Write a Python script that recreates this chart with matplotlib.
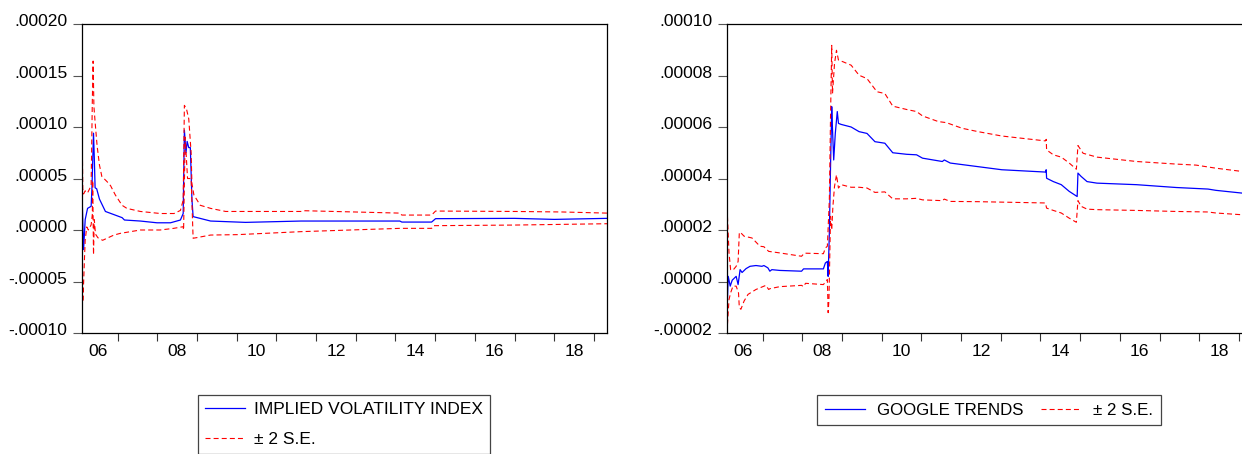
import matplotlib
matplotlib.use("Agg")
import matplotlib.pyplot as plt
from matplotlib.ticker import FixedLocator, FuncFormatter, NullFormatter, FixedFormatter
import matplotlib.transforms as mtransforms

plt.rcParams['font.family'] = ['Liberation Sans', 'DejaVu Sans']

# ---------------- data ----------------
# Left panel: IMPLIED VOLATILITY INDEX recursive coefficient and +/- 2 S.E.
ivi_x = [2006.107, 2006.14, 2006.18, 2006.24, 2006.33, 2006.35, 2006.39, 2006.41, 2006.43,
         2006.47, 2006.54, 2006.69, 2006.90, 2007.11, 2007.17, 2007.57, 2007.99, 2008.33,
         2008.58, 2008.65, 2008.68, 2008.72, 2008.75, 2008.79, 2008.83, 2008.87, 2008.90,
         2009.34, 2010.22, 2011.62, 2014.11, 2014.16, 2014.91, 2015.01, 2017.0, 2018.0, 2019.33]
ivi_y = [2.6e-5, -1.9e-5, 1.0e-5, 2.1e-5, 2.3e-5, 4.0e-5, 9.4e-5, 7.0e-5, 4.1e-5,
         4.0e-5, 3.0e-5, 1.8e-5, 1.5e-5, 1.2e-5, 0.97e-5, 0.87e-5, 0.70e-5, 0.70e-5,
         0.97e-5, 1.6e-5, 9.7e-5, 7.5e-5, 8.6e-5, 8.0e-5, 8.0e-5, 3.0e-5, 1.3e-5,
         0.87e-5, 0.74e-5, 0.87e-5, 0.87e-5, 0.77e-5, 0.77e-5, 1.10e-5, 1.13e-5, 1.03e-5, 1.13e-5]

ivi_up_x = [2006.107, 2006.12, 2006.14, 2006.18, 2006.24, 2006.33, 2006.36, 2006.38, 2006.40,
            2006.43, 2006.48, 2006.54, 2006.60, 2006.73, 2006.82, 2006.94, 2007.11, 2007.23,
            2007.57, 2008.08, 2008.42, 2008.58, 2008.65, 2008.68, 2008.73, 2008.79, 2008.85,
            2008.87, 2008.92, 2009.08, 2009.34, 2009.72, 2011.62, 2011.72, 2014.11, 2014.16,
            2014.91, 2015.01, 2017.0, 2018.2, 2019.33]
ivi_up_y = [8.3e-5, 4.0e-5, 3.5e-5, 3.8e-5, 3.6e-5, 4.3e-5, 12.5e-5, 16.4e-5, 12.0e-5,
            10.5e-5, 8.2e-5, 6.3e-5, 5.2e-5, 4.7e-5, 4.3e-5, 3.4e-5, 2.4e-5, 2.1e-5,
            1.8e-5, 1.6e-5, 1.6e-5, 1.9e-5, 2.9e-5, 12.1e-5, 11.8e-5, 10.8e-5, 7.5e-5,
            4.5e-5, 3.4e-5, 2.4e-5, 2.1e-5, 1.8e-5, 1.8e-5, 1.87e-5, 1.64e-5, 1.45e-5,
            1.45e-5, 1.84e-5, 1.80e-5, 1.75e-5, 1.64e-5]

ivi_lo_x = [2006.107, 2006.12, 2006.14, 2006.16, 2006.18, 2006.22, 2006.26, 2006.33, 2006.36,
            2006.37, 2006.39, 2006.41, 2006.44, 2006.50, 2006.62, 2006.73, 2006.90, 2007.06,
            2007.57, 2008.07, 2008.41, 2008.65, 2008.66, 2008.70, 2008.76, 2008.85, 2008.90,
            2008.98, 2009.34, 2010.02, 2011.62, 2014.11, 2014.91, 2014.96, 2017.0, 2019.33]
ivi_lo_y = [-3.2e-5, -7.0e-5, -5.2e-5, -3.0e-5, -1.0e-5, 0.3e-5, 0.0, 0.5e-5, 1.5e-5,
            4.8e-5, -2.4e-5, 1.0e-5, -0.4e-5, -0.75e-5, -1.0e-5, -0.8e-5, -0.5e-5, -0.33e-5,
            0.0, 0.0, 0.16e-5, 0.32e-5, 0.0, 9.0e-5, 5.0e-5, 5.0e-5, -0.8e-5,
            -0.75e-5, -0.49e-5, -0.45e-5, -0.16e-5, 0.16e-5, 0.16e-5, 0.42e-5, 0.48e-5, 0.61e-5]

# Right panel: GOOGLE TRENDS recursive coefficient and +/- 2 S.E.
gt_x = [2006.111, 2006.131, 2006.181, 2006.231, 2006.331, 2006.380, 2006.430, 2006.480, 2006.580,
        2006.680, 2006.830, 2006.980, 2007.030, 2007.130, 2007.180, 2007.230, 2007.430, 2007.979,
        2008.029, 2008.529, 2008.579, 2008.629, 2008.649, 2008.679, 2008.709, 2008.739, 2008.759,
        2008.789, 2008.829, 2008.879, 2008.909, 2008.978, 2009.228, 2009.428, 2009.628, 2009.828,
        2010.078, 2010.277, 2010.627, 2010.877, 2011.027, 2011.526, 2011.576, 2011.726, 2012.426,
        2013.025, 2014.124, 2014.144, 2014.154, 2014.324, 2014.524, 2014.724, 2014.924, 2014.944,
        2015.024, 2015.173, 2015.423, 2016.422, 2017.421, 2018.221, 2018.421, 2019.100, 2019.33]
gt_y = [-0.70e-5, 0.20e-5, -0.18e-5, 0.05e-5, 0.20e-5, -0.12e-5, 0.46e-5, 0.35e-5, 0.50e-5,
        0.59e-5, 0.62e-5, 0.59e-5, 0.62e-5, 0.53e-5, 0.40e-5, 0.46e-5, 0.43e-5, 0.40e-5,
        0.49e-5, 0.49e-5, 0.72e-5, 0.78e-5, 0.20e-5, 1.88e-5, 4.46e-5, 6.79e-5, 5.9e-5,
        4.72e-5, 5.75e-5, 6.60e-5, 6.14e-5, 6.10e-5, 6.00e-5, 5.82e-5, 5.75e-5, 5.43e-5,
        5.37e-5, 5.00e-5, 4.94e-5, 4.92e-5, 4.79e-5, 4.66e-5, 4.72e-5, 4.60e-5, 4.46e-5,
        4.34e-5, 4.25e-5, 4.34e-5, 4.01e-5, 3.88e-5, 3.76e-5, 3.50e-5, 3.30e-5, 4.21e-5,
        4.08e-5, 3.88e-5, 3.82e-5, 3.76e-5, 3.65e-5, 3.59e-5, 3.54e-5, 3.43e-5, 3.40e-5]

gt_up_x = [2006.111, 2006.151, 2006.191, 2006.251, 2006.331, 2006.380, 2006.410, 2006.430, 2006.530,
           2006.730, 2006.930, 2007.030, 2007.150, 2007.430, 2007.979, 2008.049, 2008.529, 2008.579,
           2008.629, 2008.679, 2008.709, 2008.739, 2008.759, 2008.809, 2008.859, 2008.909, 2009.028,
           2009.228, 2009.428, 2009.628, 2009.878, 2010.078, 2010.277, 2010.627, 2010.877, 2011.027,
           2011.427, 2011.626, 2012.026, 2012.426, 2013.025, 2014.124, 2014.144, 2014.154, 2014.324,
           2014.524, 2014.724, 2014.904, 2014.944, 2015.074, 2015.423, 2016.422, 2017.421, 2017.921,
           2018.421, 2019.100, 2019.33]
gt_up_y = [2.53e-5, 1.11e-5, 0.46e-5, 0.44e-5, 0.59e-5, 0.78e-5, 1.88e-5, 1.92e-5, 1.76e-5,
           1.69e-5, 1.37e-5, 1.35e-5, 1.17e-5, 1.11e-5, 0.98e-5, 1.10e-5, 1.08e-5, 1.30e-5,
           1.37e-5, 3.17e-5, 6.40e-5, 9.17e-5, 7.30e-5, 8.46e-5, 8.98e-5, 8.60e-5, 8.53e-5,
           8.40e-5, 8.01e-5, 7.88e-5, 7.37e-5, 7.30e-5, 6.81e-5, 6.68e-5, 6.60e-5, 6.43e-5,
           6.21e-5, 6.17e-5, 5.95e-5, 5.82e-5, 5.65e-5, 5.46e-5, 5.52e-5, 5.11e-5, 4.92e-5,
           4.83e-5, 4.60e-5, 4.36e-5, 5.28e-5, 4.98e-5, 4.83e-5, 4.66e-5, 4.56e-5, 4.52e-5,
           4.40e-5, 4.27e-5, 4.22e-5]

gt_lo_x = [2006.111, 2006.151, 2006.191, 2006.251, 2006.331, 2006.390, 2006.410, 2006.450, 2006.530,
           2006.630, 2006.830, 2007.080, 2007.150, 2007.180, 2007.430, 2007.979, 2008.029, 2008.079,
           2008.529, 2008.629, 2008.649, 2008.669, 2008.709, 2008.739, 2008.769, 2008.809, 2008.859,
           2008.909, 2008.978, 2009.228, 2009.428, 2009.628, 2009.828, 2010.078, 2010.277, 2010.627,
           2010.877, 2011.027, 2011.526, 2011.576, 2011.726, 2012.426, 2014.124, 2014.154, 2014.324,
           2014.524, 2014.724, 2014.904, 2014.944, 2015.024, 2015.173, 2015.423, 2016.422, 2017.421,
           2018.221, 2018.421, 2019.100, 2019.33]
gt_lo_y = [-1.67e-5, -0.70e-5, -0.44e-5, -0.18e-5, -0.18e-5, -0.44e-5, -1.00e-5, -1.08e-5, -0.76e-5,
           -0.50e-5, -0.31e-5, -0.15e-5, -0.31e-5, -0.28e-5, -0.20e-5, -0.15e-5, -0.20e-5, -0.07e-5,
           -0.12e-5, 0.08e-5, -1.21e-5, -0.70e-5, 2.53e-5, 2.00e-5, 2.92e-5, 3.69e-5, 4.14e-5,
           3.63e-5, 3.76e-5, 3.66e-5, 3.66e-5, 3.63e-5, 3.46e-5, 3.48e-5, 3.21e-5, 3.21e-5,
           3.23e-5, 3.17e-5, 3.14e-5, 3.20e-5, 3.11e-5, 3.10e-5, 3.05e-5, 2.85e-5, 2.76e-5,
           2.66e-5, 2.46e-5, 2.30e-5, 3.14e-5, 2.92e-5, 2.81e-5, 2.79e-5, 2.76e-5, 2.72e-5,
           2.70e-5, 2.66e-5, 2.59e-5, 2.57e-5]

year_ticks = list(range(2007, 2020))
label_years = [2006, 2008, 2010, 2012, 2014, 2016, 2018]
year_labels = ['06', '08', '10', '12', '14', '16', '18']
left_yticks = [-0.00010, -0.00005, 0.0, 0.00005, 0.00010, 0.00015, 0.00020]
right_yticks = [-0.00002, 0.0, 0.00002, 0.00004, 0.00006, 0.00008, 0.00010]
x_range = (2006.10, 2019.33)

# ---------------- layout ----------------
W, H = 1242, 454
fig = plt.figure(figsize=(W / 100, H / 100), dpi=100)


def px_axes(l, t, r, b):
    return [l / W, 1 - b / H, (r - l) / W, (b - t) / H]


ax1 = fig.add_axes(px_axes(82, 24, 607, 333))
ax2 = fig.add_axes(px_axes(727, 24, 1252, 333))

BLUE = '#0000ff'
RED = '#ff0000'
DASH = (4.5, 2.8)
FS = 12.6


def fmt(v, pos=None):
    s = f"{v:.5f}"
    return s.replace("0.", ".", 1)


def style(ax, yticks):
    ax.set_xlim(*x_range)
    ax.set_ylim(yticks[0], yticks[-1])
    ax.yaxis.set_major_locator(FixedLocator(yticks))
    ax.yaxis.set_major_formatter(FuncFormatter(fmt))
    ax.xaxis.set_major_locator(FixedLocator(year_ticks))
    ax.xaxis.set_minor_locator(FixedLocator([y + 0.5 for y in label_years]))
    ax.xaxis.set_major_formatter(NullFormatter())
    ax.xaxis.set_minor_formatter(FixedFormatter(year_labels))
    ax.tick_params(axis='x', which='major', direction='out', length=5.8, width=0.8, color='#333333')
    ax.tick_params(axis='x', which='minor', length=0, pad=7.6, labelsize=FS)
    ax.tick_params(axis='y', direction='out', length=6.5, width=0.8, pad=4.1,
                   labelsize=FS, color='#555555')
    for s in ax.spines.values():
        s.set_linewidth(0.9)
        s.set_color('black')
    offset = mtransforms.ScaledTranslation(0, 4 / 100, fig.dpi_scale_trans)
    for t in ax.yaxis.get_major_ticks():
        t.label1.set_transform(t.label1.get_transform() + offset)


# left panel
lb, = ax1.plot(ivi_x, ivi_y, color=BLUE, lw=0.9)
lr, = ax1.plot(ivi_up_x, ivi_up_y, color=RED, lw=0.8, dashes=DASH)
ax1.plot(ivi_lo_x, ivi_lo_y, color=RED, lw=0.8, dashes=DASH)
style(ax1, left_yticks)

# right panel
rb, = ax2.plot(gt_x, gt_y, color=BLUE, lw=0.9)
rr, = ax2.plot(gt_up_x, gt_up_y, color=RED, lw=0.8, dashes=DASH)
ax2.plot(gt_lo_x, gt_lo_y, color=RED, lw=0.8, dashes=DASH)
style(ax2, right_yticks)

leg1 = ax1.legend([lb, lr], ['IMPLIED VOLATILITY INDEX', '± 2 S.E.'],
                  loc='upper left', bbox_to_anchor=(198 / W, 1 - 395 / H),
                  bbox_transform=fig.transFigure, borderaxespad=0, fancybox=False,
                  edgecolor='#444444', framealpha=1, fontsize=12.5, handlelength=2.3,
                  handletextpad=0.55, borderpad=0.4, labelspacing=0.85)
leg1.get_frame().set_linewidth(0.9)

leg2 = ax2.legend([rb, rr], ['GOOGLE TRENDS', '± 2 S.E.'], ncol=2,
                  loc='upper left', bbox_to_anchor=(817 / W, 1 - 395 / H),
                  bbox_transform=fig.transFigure, borderaxespad=0, fancybox=False,
                  edgecolor='#444444', framealpha=1, fontsize=12.2, handlelength=2.4,
                  handletextpad=0.7, borderpad=0.45, columnspacing=1.0)
leg2.get_frame().set_linewidth(0.9)

fig.savefig('out.png', dpi=100)
